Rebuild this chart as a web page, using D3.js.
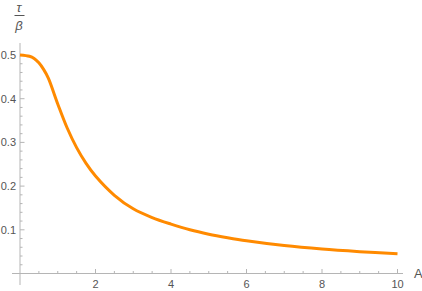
<!DOCTYPE html>
<html>
<head>
<meta charset="utf-8">
<script src="https://cdn.jsdelivr.net/npm/d3@7"></script>
<style>
  body { margin: 0; background: #fff; }
  text { font-family: "Liberation Sans", Arial, sans-serif; }
</style>
</head>
<body>
<div id="chart"></div>
<script>
// values
const aValues = [0, 0.25, 0.375, 0.5, 0.625, 0.75, 1.0, 1.25, 1.5, 1.75, 2.0, 2.5, 3.0, 3.5, 4.0, 4.5, 5.0, 5.5, 6.0, 7.0, 8.0, 9.0, 10.0];
const ratioValues = [0.5, 0.497, 0.492, 0.482, 0.467, 0.447, 0.388, 0.333, 0.288, 0.252, 0.223, 0.179, 0.148, 0.128, 0.113, 0.1, 0.09, 0.082, 0.075, 0.064, 0.056, 0.05, 0.045];
const xTicks = [2, 4, 6, 8, 10];
const yTicks = [0.1, 0.2, 0.3, 0.4, 0.5];

const width = 422, height = 291;

const svg = d3.select("#chart").append("svg")
    .attr("width", width)
    .attr("height", height);

const x = d3.scaleLinear().domain([0, 10]).range([20, 397.5]);
const y = d3.scaleLinear().domain([0, 0.5]).range([273.5, 55]);

const axisColor = "#b5b5b5";
const textColor = "#555";

// axis lines
svg.append("line")
    .attr("x1", 12).attr("x2", 403)
    .attr("y1", y(0)).attr("y2", y(0))
    .attr("stroke", axisColor);
svg.append("line")
    .attr("x1", x(0)).attr("x2", x(0))
    .attr("y1", 43).attr("y2", 285)
    .attr("stroke", axisColor);

// x ticks, minor every 0.5
const xMinor = d3.range(0.5, 10.01, 0.5);
svg.selectAll(".xt").data(xMinor).enter().append("line")
    .attr("x1", d => x(d)).attr("x2", d => x(d))
    .attr("y1", y(0))
    .attr("y2", d => y(0) - (d % 2 === 0 ? 4.5 : 2.5))
    .attr("stroke", axisColor);

svg.selectAll(".xl").data(xTicks).enter().append("text")
    .attr("x", d => x(d))
    .attr("y", 288)
    .attr("text-anchor", "middle")
    .attr("font-size", 11)
    .attr("fill", textColor)
    .text(d => d);

// y ticks, minor every 0.02
const yMinor = d3.range(1, 26).map(i => i * 0.02);
svg.selectAll(".yt").data(yMinor).enter().append("line")
    .attr("x1", x(0))
    .attr("x2", (d, i) => x(0) + ((i + 1) % 5 === 0 ? 4.5 : 2.5))
    .attr("y1", d => y(d)).attr("y2", d => y(d))
    .attr("stroke", axisColor);

svg.selectAll(".yl").data(yTicks).enter().append("text")
    .attr("x", 16)
    .attr("y", d => y(d) + 4)
    .attr("text-anchor", "end")
    .attr("font-size", 11)
    .attr("fill", textColor)
    .text(d => d);

// axis labels
svg.append("text")
    .attr("x", 414).attr("y", 278)
    .attr("font-size", 13)
    .attr("fill", textColor)
    .text("A");

const frac = svg.append("g").attr("fill", textColor);
frac.append("text")
    .attr("x", 19).attr("y", 12)
    .attr("text-anchor", "middle")
    .attr("font-size", 13)
    .attr("font-style", "italic")
    .text("τ");
frac.append("line")
    .attr("x1", 14.5).attr("x2", 24.5)
    .attr("y1", 15.5).attr("y2", 15.5)
    .attr("stroke", textColor);
frac.append("text")
    .attr("x", 19).attr("y", 30)
    .attr("text-anchor", "middle")
    .attr("font-size", 13)
    .attr("font-style", "italic")
    .text("β");

// curve
const pts = aValues.map((a, i) => [a, ratioValues[i]]);
const line = d3.line()
    .x(d => x(d[0]))
    .y(d => y(d[1]))
    .curve(d3.curveCatmullRom.alpha(0.5));

svg.append("path")
    .datum(pts)
    .attr("d", line)
    .attr("fill", "none")
    .attr("stroke", "#ff8a00")
    .attr("stroke-width", 3);
</script>
</body>
</html>
